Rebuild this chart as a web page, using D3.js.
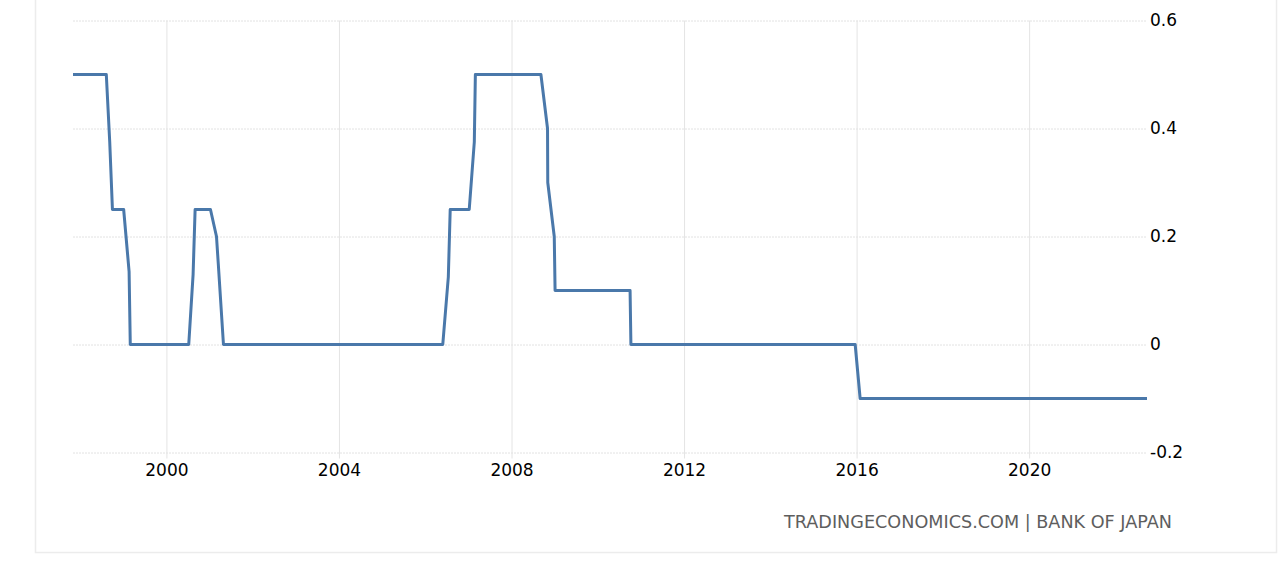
<!DOCTYPE html>
<html>
<head>
<meta charset="utf-8">
<script src="https://cdn.jsdelivr.net/npm/d3@7"></script>
<style>
  body { margin: 0; background: #fff; }
  svg { display: block; font-family: 'DejaVu Sans', sans-serif; }
</style>
</head>
<body>
<div id="chart"></div>
<script>
// Japan interest rate
const dates = [
  '1997-11-01', '1998-08-10', '1998-09-08', '1998-10-01', '1999-01-04', '1999-02-19', '1999-03-01',
  '2000-07-08', '2000-08-14', '2000-08-31', '2001-01-08', '2001-02-28', '2001-03-15', '2001-04-28',
  '2006-05-29', '2006-07-15', '2006-07-31', '2007-01-08', '2007-02-20', '2007-03-01',
  '2008-09-06', '2008-11-01', '2008-11-03', '2008-12-28', '2009-01-04',
  '2010-10-01', '2010-10-08', '2015-12-20', '2016-01-31', '2022-09-25'
]
const rates = [
  0.5, 0.5, 0.375, 0.25, 0.25, 0.135, 0,
  0, 0.13, 0.25, 0.25, 0.2, 0.15, 0,
  0, 0.125, 0.25, 0.25, 0.375, 0.5,
  0.5, 0.4, 0.3, 0.2, 0.1,
  0.1, 0, 0, -0.1, -0.1
]
const yTicks = [-0.2, 0, 0.2, 0.4, 0.6]
const sourceLabel = 'TRADINGECONOMICS.COM | BANK OF JAPAN'

const width = 1280
const height = 583
const plot = { left: 73, right: 1147, top: 20.5, bottom: 452.5 }
const font = "'DejaVu Sans', sans-serif"

const parse = d3.timeParse('%Y-%m-%d')
const data = dates.map((d, i) => ({ date: parse(d), value: rates[i] }))

const svg = d3.select('#chart').append('svg')
  .attr('width', width)
  .attr('height', height)

// outer frame
svg.append('rect')
  .attr('x', 35.5)
  .attr('y', -5)
  .attr('width', 1241)
  .attr('height', 557.5)
  .attr('fill', 'none')
  .attr('stroke', '#ececec')
  .attr('stroke-width', 1.5)

const x = d3.scaleTime()
  .domain(d3.extent(data, d => d.date))
  .range([plot.left, plot.right])

const y = d3.scaleLinear()
  .domain([-0.2, 0.6])
  .range([plot.bottom, plot.top])

// horizontal grid + right labels
const yAxis = d3.axisRight(y)
  .tickValues(yTicks)
  .tickSize(plot.right - plot.left)
  .tickPadding(3)
  .tickFormat(d => d === 0 ? '0' : d3.format('.1f')(d).replace('\u2212', '-'))

svg.append('g')
  .attr('class', 'y axis')
  .attr('transform', 'translate(' + plot.left + ',0)')
  .call(yAxis)
  .attr('font-family', font)
  .attr('font-size', 17)
  .call(g => g.select('.domain').remove())
  .call(g => g.selectAll('line')
    .attr('stroke', '#e2e2e2')
    .attr('stroke-dasharray', '2,1'))
  .call(g => g.selectAll('text').attr('fill', '#000'))

// vertical grid + bottom labels
const xAxis = d3.axisBottom(x)
  .ticks(d3.timeYear.every(4))
  .tickFormat(d3.timeFormat('%Y'))
  .tickSize(plot.bottom - plot.top + 6)
  .tickPadding(5)

svg.append('g')
  .attr('class', 'x axis')
  .attr('transform', 'translate(0,' + plot.top + ')')
  .call(xAxis)
  .attr('font-family', font)
  .attr('font-size', 17)
  .call(g => g.select('.domain').remove())
  .call(g => g.selectAll('line').attr('stroke', '#e4e4e4'))
  .call(g => g.selectAll('text').attr('fill', '#000'))

const line = d3.line()
  .x(d => x(d.date))
  .y(d => y(d.value))

svg.append('path')
  .datum(data)
  .attr('d', line)
  .attr('fill', 'none')
  .attr('stroke', '#4a78aa')
  .attr('stroke-width', 3)
  .attr('stroke-linejoin', 'round')

svg.append('text')
  .attr('x', 1172)
  .attr('y', 528)
  .attr('text-anchor', 'end')
  .attr('fill', '#5e5e5e')
  .attr('textLength', 388)
  .attr('lengthAdjust', 'spacingAndGlyphs')
  .attr('font-size', 18)
  .text(sourceLabel)
</script>
</body>
</html>
